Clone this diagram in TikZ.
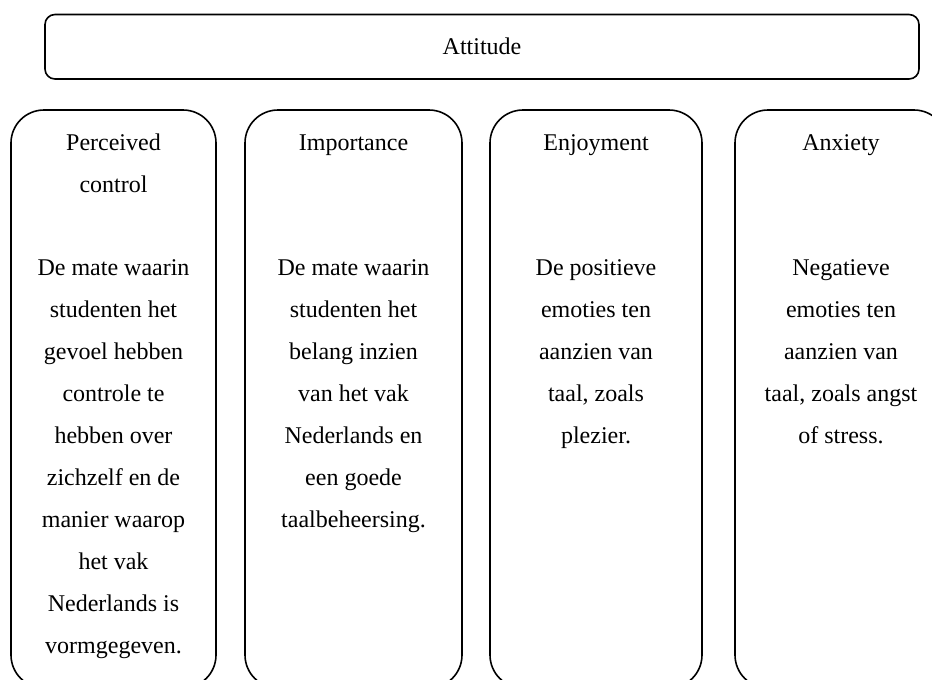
\documentclass[tikz,border=0pt]{standalone}
\usepackage{fontspec}
\setmainfont{Liberation Serif}
\usetikzlibrary{positioning}

\begin{document}
\begin{tikzpicture}[
        x=0.5pt, y=-0.5pt,
        line width=0.8pt,
        font=\fontsize{12}{21}\selectfont,
        topbox/.style = {
            draw=black,
            rectangle,
            rounded corners=5pt,
            minimum width=437pt,
            minimum height=32.25pt,
        },
        colbox/.style = {
            draw=black,
            rectangle,
            rounded corners=16.5pt,
            minimum height=289pt,
        },
        coltext/.style = {
            align=center,
            inner sep=0pt,
        }
    ]

    % page and cut-off edges
    \fill[white] (0,0) rectangle (932,680);
    \clip (0,0) rectangle (932,680);

    \node[topbox] (attitude) at (482,46.75) {Attitude};

    % the four columns
    \node[colbox, minimum width=102.5pt] (control) at (113.5,399) {};
    \node[colbox, minimum width=108.5pt] (importance) at (353.5,399) {};
    \node[colbox, minimum width=106pt] (enjoyment) at (596,399) {};
    \node[colbox, minimum width=106pt] (anxiety) at (841,399) {};

    % headings
    \node[coltext, below=5.3pt of control.north] (controlhead) {\strut Perceived\\control};
    \node[coltext, below=5.3pt of importance.north] (importancehead) {\strut Importance};
    \node[coltext, below=5.3pt of enjoyment.north] (enjoymenthead) {\strut Enjoyment};
    \node[coltext, below=5.3pt of anxiety.north] (anxietyhead) {\strut Anxiety};

    % descriptions
    \node[coltext, below=67.8pt of control.north] (controltext)
        {\strut De mate waarin\\studenten het\\gevoel hebben\\controle te\\hebben over\\zichzelf en de\\manier waarop\\het vak\\Nederlands is\\vormgegeven.};
    \node[coltext, below=67.8pt of importance.north] (importancetext)
        {\strut De mate waarin\\studenten het\\belang inzien\\van het vak\\Nederlands en\\een goede\\taalbeheersing.};
    \node[coltext, below=67.8pt of enjoyment.north] (enjoymenttext)
        {\strut De positieve\\emoties ten\\aanzien van\\taal, zoals\\plezier.};
    \node[coltext, below=67.8pt of anxiety.north] (anxietytext)
        {\strut Negatieve\\emoties ten\\aanzien van\\taal, zoals angst\\of stress.};

\end{tikzpicture}
\end{document}
